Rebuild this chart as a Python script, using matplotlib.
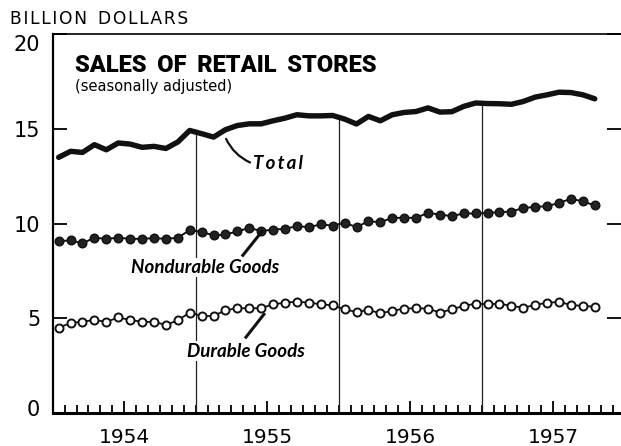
#!/usr/bin/env python

import numpy as np
import matplotlib
matplotlib.use('Agg')
import matplotlib.pyplot as plt
from matplotlib.transforms import ScaledTranslation

# monthly values, Jan 1954 - Oct 1957, billion dollars
total = [13.49, 13.81, 13.75, 14.16, 13.89, 14.25, 14.19, 14.02, 14.07, 13.96,
         14.30, 14.91, 14.74, 14.56, 14.95, 15.17, 15.26, 15.26, 15.42, 15.56,
         15.74, 15.68, 15.68, 15.70, 15.51, 15.25, 15.65, 15.42, 15.74, 15.86,
         15.91, 16.10, 15.88, 15.90, 16.18, 16.36, 16.33, 16.32, 16.29, 16.44,
         16.67, 16.79, 16.93, 16.91, 16.79, 16.58]
nondurable = [9.07, 9.11, 8.95, 9.25, 9.19, 9.25, 9.19, 9.19, 9.23, 9.19,
              9.25, 9.65, 9.56, 9.37, 9.42, 9.58, 9.77, 9.60, 9.68, 9.72,
              9.86, 9.81, 9.95, 9.89, 10.04, 9.81, 10.12, 10.07, 10.30, 10.30,
              10.30, 10.56, 10.47, 10.39, 10.53, 10.53, 10.56, 10.60, 10.63, 10.82,
              10.88, 10.91, 11.09, 11.30, 11.17, 10.95]
durable = [4.51, 4.74, 4.82, 4.91, 4.81, 5.04, 4.91, 4.81, 4.81, 4.65,
           4.89, 5.30, 5.12, 5.12, 5.42, 5.53, 5.53, 5.53, 5.74, 5.82,
           5.88, 5.82, 5.74, 5.68, 5.47, 5.33, 5.44, 5.26, 5.39, 5.51,
           5.53, 5.51, 5.30, 5.47, 5.65, 5.77, 5.74, 5.77, 5.65, 5.56,
           5.70, 5.82, 5.86, 5.70, 5.65, 5.61]
years = ['1954', '1955', '1956', '1957']
yticks = [0, 5, 10, 15, 20]

x = np.arange(len(total)) + 0.5

fig = plt.figure(figsize=(6.21, 4.46), dpi=100)
ax = fig.add_axes([52.7 / 621, 33 / 446, 1 - 52.7 / 621, 379 / 446])

ax.plot(x, total, color='#111', lw=3.9, solid_capstyle='round', zorder=4)
ax.plot(x, nondurable, color='#111', lw=1.4, marker='o', ms=6.2,
        mfc='#222', mec='#111', zorder=4)
ax.plot(x, durable, color='#111', lw=1.3, marker='o', ms=5.8,
        mfc='white', mec='#111', mew=1.4, zorder=4)

# year dividers up to the total line
for k in range(1, len(years)):
    top = (total[12 * k - 1] + total[12 * k]) / 2
    ax.vlines(12 * k, 0, top, color='#222', lw=0.9, zorder=2)

ax.set_xlim(0, 47.7)
ax.set_ylim(0, 20)

ax.set_xticks([6 + 12 * i for i in range(len(years))])
ax.set_xticklabels(years, fontsize=14.5)
ax.set_xticks(np.arange(1, 48), minor=True)
ax.tick_params(axis='x', which='major', direction='in', length=9, width=1.3, pad=11)
ax.tick_params(axis='x', which='minor', direction='in', length=5.5, width=1.3)

ax.set_yticks(yticks)
ax.set_yticklabels([str(v) for v in yticks], fontsize=15)
ax.tick_params(axis='y', which='major', direction='in', length=10, width=1.3,
               pad=9, left=True, right=True)
labs = ax.get_yticklabels()
labs[-1].set_transform(labs[-1].get_transform() + ScaledTranslation(0, -0.09, fig.dpi_scale_trans))
labs[0].set_transform(labs[0].get_transform() + ScaledTranslation(0, 0.05, fig.dpi_scale_trans))

ax.spines['right'].set_visible(False)
ax.spines['left'].set_linewidth(1.6)
ax.spines['bottom'].set_linewidth(2.2)
ax.spines['top'].set_linewidth(1.2)

hair = '\u200a'
fig.text(10 / 621, 1 - 24 / 446, hair.join('BILLION') + '  ' + hair.join('DOLLARS'),
         fontsize=12.3, va='baseline', ha='left')
fig.text(75 / 621, 1 - 72 / 446, ' \u2009'.join(['SALES', 'OF', 'RETAIL', 'STORES']),
         fontsize=17, family='Roboto', weight='black', va='baseline', ha='left')
fig.text(75 / 621, 1 - 91 / 446, '(seasonally adjusted)', fontsize=10.5,
         va='baseline', ha='left')

lab = dict(fontsize=13.5, family=['Lato', 'DejaVu Sans'], style='italic', weight='bold',
           ha='center', va='center')
ax.annotate('\u2009'.join('Total'), xy=(14.55, 14.47), xytext=(18.9, 13.16), zorder=5,
            arrowprops=dict(arrowstyle='-', lw=1.6, color='#111', shrinkA=0, shrinkB=0,
                            relpos=(0.0, 0.5), connectionstyle='arc3,rad=-0.2'),
            **lab)
ax.text(12.78, 7.68, 'Nondurable Goods', zorder=5,
        bbox=dict(fc='white', ec='none', pad=1), **lab)
ax.plot([17.56, 15.96], [9.58, 8.32], color='#111', lw=2.2, zorder=5)
ax.text(16.22, 3.26, 'Durable Goods', zorder=5,
        bbox=dict(fc='white', ec='none', pad=1), **lab)
ax.plot([17.73, 16.22], [5.21, 4.0], color='#111', lw=2.2, zorder=5)

plt.savefig('out.png', dpi=100)
